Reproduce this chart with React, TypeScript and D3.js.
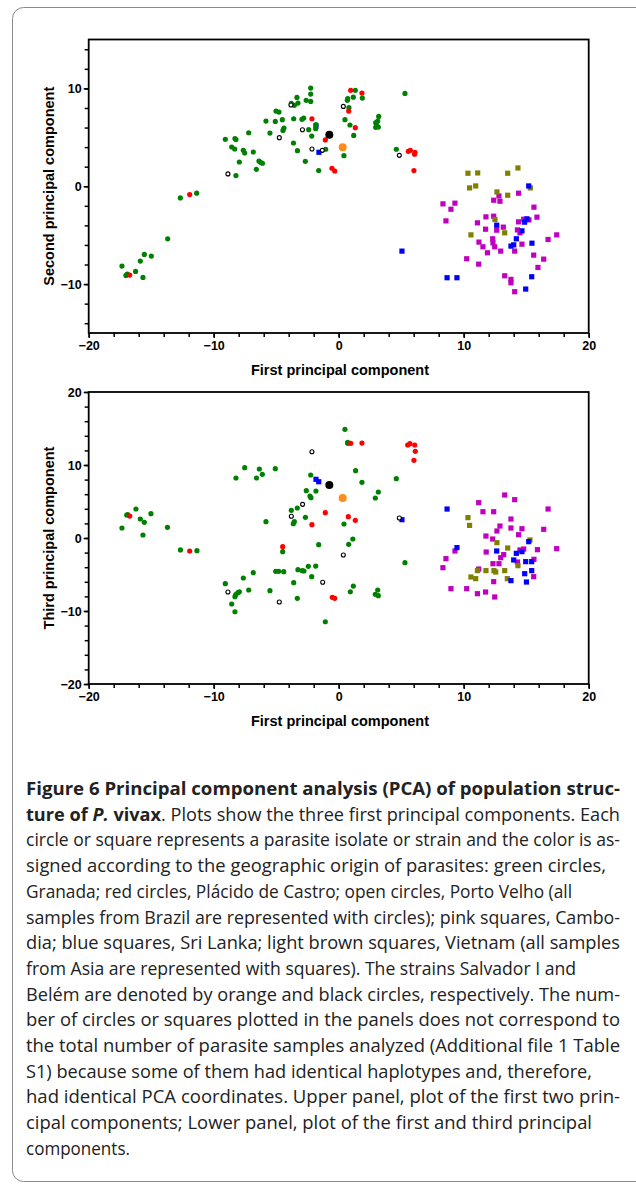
import React, { useEffect, useRef } from "react";
import * as d3 from "d3";

type Pt = [number, number];

// ---- upper panel: PC1 vs PC2 ----
const pc2Granada: Pt[] = [
  [-2.24, 10.03], [-2.24, 9.42], [-3.34, 9.08], [-2.6, 8.78], [-2.24, 8.67], [-3.79, 8.47], [-3.55, 8.27],
  [-3.26, 8.5], [-5.02, 7.68], [-4.78, 7.58], [-5.82, 6.66], [-5.07, 6.63], [-4.51, 6.8], [-3.6, 6.9],
  [-2.94, 6.84], [-2.8, 6.97], [-7.2, 5.47], [-5.5, 5.44], [-4.38, 5.95], [-4.46, 5.71], [-2.4, 5.78],
  [-1.82, 6.29], [-1.84, 5.89], [-9.07, 4.8], [-8.3, 4.87], [-8.22, 4.77], [-2.16, 5.13], [-3.62, 4.42],
  [-8.56, 4.01], [-8.32, 3.81], [-7.63, 3.67], [-7.52, 3.4], [-6.83, 3.5], [-3.3, 3.64], [-1.04, 3.78],
  [-7.95, 2.48], [-6.38, 2.58], [-6.25, 2.45], [-6.1, 2.35], [-2.67, 2.55], [0.42, 3.13], [-6.59, 1.73],
  [-1.6, 1.6], [-8.22, 1.09], [-12.67, -1.19], [-11.36, -0.71], [1.33, 9.8], [0.72, 8.95], [0.69, 8.78],
  [1.17, 9.1], [0.82, 8.03], [0.5, 6.8], [0.9, 6.26], [1.2, 5.2], [1.89, 9.01], [3.2, 7.14], [3.12, 6.66],
  [2.96, 6.5], [3.04, 6.26], [3.17, 6.05], [2.96, 6.02], [5.3, 9.49], [4.61, 3.78], [-13.68, -5.37],
  [-14.99, -7.14], [-15.55, -6.97], [-15.87, -7.65], [-17.34, -8.16], [-16.25, -8.71], [-16.91, -8.98],
  [-17.02, -9.12], [-15.66, -9.32],
];
const pc2Placido: Pt[] = [
  [-2.14, 6.9], [-1.07, 4.73], [-0.54, 1.84], [-0.32, 1.56], [-11.92, -0.85], [0.96, 9.8], [0.8, 7.68],
  [1.33, 5.99], [1.86, 9.52], [5.57, 3.57], [5.73, 3.67], [6.1, 3.47], [6.07, 3.27], [6.02, 1.6], [-16.72, -9.08],
];
const pc2PortoVelho: Pt[] = [
  [-3.82, 8.3], [-2.9, 5.78], [-4.75, 4.97], [-2.14, 3.81], [-1.31, 3.67], [-8.86, 1.26], [0.37, 8.16], [4.85, 3.16],
];
const pc2Cambodia: Pt[] = [
  [14.39, -0.71], [12.82, -0.99], [12.4, -1.43], [12.9, -1.53], [8.34, -1.8], [9.3, -1.73], [8.98, -2.35],
  [15.62, -2.14], [8.58, -3.54], [11.1, -3.74], [11.78, -3.13], [12.4, -3.06], [15.86, -3.16], [15.22, -3.44],
  [14.8, -3.37], [14.39, -3.64], [13.17, -4.18], [11.75, -4.39], [12.64, -4.49], [14.3, -4.46], [14.5, -4.76],
  [17.44, -4.97], [16.75, -5.44], [11.22, -5.71], [12.32, -5.37], [12.34, -5.78], [12.48, -6.19], [11.54, -6.19],
  [14.66, -5.92], [12.96, -6.63], [11.9, -6.8], [14.08, -6.63], [15.6, -7.04], [10.24, -7.41], [16.4, -7.45],
  [11.2, -7.96], [15.94, -8.3], [13.28, -9.15], [13.78, -9.52], [13.78, -9.87], [14.08, -10.78],
];
const pc2SriLanka: Pt[] = [
  [-1.82, 6.15], [-1.58, 3.47], [15.2, 0.03], [15.06, -3.33], [14.87, -3.67], [12.64, -3.98], [14.66, -4.56],
  [14.21, -5.37], [14.0, -5.99], [13.78, -6.12], [15.46, -5.82], [5.06, -6.63], [8.67, -9.35], [9.46, -9.35],
  [15.44, -9.25], [14.96, -10.51],
];
const pc2Vietnam: Pt[] = [
  [10.34, 1.33], [11.12, 1.36], [13.52, 1.33], [14.34, 1.87], [10.47, -0.17], [10.96, 0.03], [12.66, -0.58],
  [13.52, -0.92], [15.33, -0.17], [12.5, -3.4], [13.28, -4.76], [10.58, -4.97],
];
const pc2Salvador: Pt[] = [[0.32, 3.98]];
const pc2Belem: Pt[] = [[-0.75, 5.27]];

// ---- lower panel: PC1 vs PC3 ----
const pc3Granada: Pt[] = [
  [-7.52, 9.63], [-6.35, 9.45], [-5.07, 9.49], [-8.22, 8.22], [-6.58, 8.22], [-6.11, 8.72], [-2.24, 8.63],
  [-2.59, 6.48], [-1.82, 6.44], [-2.3, 5.75], [-2.22, 5.52], [-3.31, 4.11], [-3.79, 3.79], [-2.66, 2.83],
  [-5.82, 2.23], [-3.55, 2.23], [-3.63, 1.96], [-1.6, -0.92], [-4.48, -1.87], [-16.22, 3.97], [-16.96, 3.15],
  [-16.88, 3.19], [-15.02, 3.33], [-15.87, 2.6], [-15.55, 2.15], [-17.34, 1.37], [-15.66, 0.41], [-13.7, 1.46],
  [0.5, 14.89], [0.72, 13.11], [0.72, 12.97], [1.35, 9.22], [1.86, 7.63], [4.61, 8.12], [3.17, 6.3],
  [2.93, 5.48], [0.42, 1.92], [1.13, -0.14], [0.8, -0.86], [5.3, -3.38], [-12.66, -1.64], [-11.34, -1.73],
  [-2.43, -3.88], [-1.84, -3.84], [-3.26, -4.34], [-2.91, -4.48], [-2.78, -4.52], [-5.04, -4.57], [-4.8, -4.57],
  [-4.4, -4.61], [-2.16, -5.3], [-6.83, -4.75], [-7.63, -5.48], [-9.07, -6.26], [-3.6, -6.12], [1.17, -6.58],
  [0.93, -7.36], [-7.2, -7.12], [-7.95, -7.36], [-8.06, -7.49], [-8.24, -7.77], [-8.3, -8.04], [-5.5, -7.22],
  [-3.31, -8.26], [-8.56, -9.04], [-8.3, -10.1], [-1.07, -11.47], [2.93, -7.71], [3.17, -7.9], [3.12, -7.12],
];
const pc3Placido: Pt[] = [
  [-1.07, 3.47], [-2.14, 1.82], [-16.72, 3.01], [-4.48, -1.19], [0.96, 12.97], [1.86, 13.01], [5.52, 12.74],
  [5.7, 12.92], [6.08, 12.74], [6.13, 11.87], [6.02, 10.64], [0.77, 2.92], [1.33, 2.42], [-11.92, -1.78],
  [-0.51, -8.12], [-0.32, -8.26],
];
const pc3PortoVelho: Pt[] = [
  [-2.14, 11.82], [-2.89, 4.61], [-3.79, 2.97], [4.85, 2.74], [0.37, -2.33], [-1.28, -6.07], [-8.86, -7.4], [-4.75, -8.77],
];
const pc3Cambodia: Pt[] = [
  [13.28, 5.89], [14.08, 5.25], [11.2, 4.84], [11.54, 3.6], [12.4, 3.6], [16.75, 3.97], [13.78, 2.6],
  [12.9, 1.64], [13.78, 1.37], [14.66, 1.27], [16.4, 1.19], [12.66, 0.96], [11.78, 0.27], [14.39, 0.45],
  [12.32, -0.14], [14.8, -1.51], [14.5, -1.64], [15.9, -1.6], [17.44, -1.46], [9.3, -1.78], [11.8, -1.92],
  [13.2, -2.28], [12.96, -2.7], [8.58, -2.83], [15.62, -2.92], [12.34, -3.52], [12.82, -3.52], [14.3, -3.29],
  [8.34, -4.07], [11.2, -4.25], [15.6, -5.3], [12.4, -5.98], [8.98, -6.94], [10.24, -6.94], [11.1, -7.63],
  [11.75, -7.4], [12.48, -8.08],
];
const pc3SriLanka: Pt[] = [
  [-1.82, 8.04], [-1.6, 7.71], [5.06, 2.51], [8.67, 3.97], [9.46, -1.32], [15.2, -0.5], [12.64, -1.78],
  [14.21, -2.1], [14.66, -1.87], [14.0, -3.01], [14.96, -3.24], [15.44, -3.24], [15.44, -4.47], [14.88, -4.89],
  [13.78, -5.84], [15.02, -6.03],
];
const pc3Vietnam: Pt[] = [
  [10.34, 2.79], [10.47, 1.73], [12.66, -0.64], [13.52, -1.37], [15.3, -0.27], [14.34, -3.79], [11.1, -4.47],
  [11.78, -4.47], [12.42, -4.47], [12.56, -4.66], [13.28, -4.47], [10.58, -5.34], [10.96, -5.57], [13.49, -5.57],
];
const pc3Salvador: Pt[] = [[0.32, 5.48]];
const pc3Belem: Pt[] = [[-0.75, 7.26]];

const pc1Ticks = [-20, -10, 0, 10, 20];
const pc2Ticks = [-10, 0, 10];
const pc3Ticks = [-20, -10, 0, 10, 20];

const captionLines = [
  "Figure 6 Principal component analysis (PCA) of population struc-",
  "ture of P. vivax. Plots show the three first principal components. Each",
  "circle or square represents a parasite isolate or strain and the color is as-",
  "signed according to the geographic origin of parasites: green circles,",
  "Granada; red circles, Plácido de Castro; open circles, Porto Velho (all",
  "samples from Brazil are represented with circles); pink squares, Cambo-",
  "dia; blue squares, Sri Lanka; light brown squares, Vietnam (all samples",
  "from Asia are represented with squares). The strains Salvador I and",
  "Belém are denoted by orange and black circles, respectively. The num-",
  "ber of circles or squares plotted in the panels does not correspond to",
  "the total number of parasite samples analyzed (Additional file 1 Table",
  "S1) because some of them had identical haplotypes and, therefore,",
  "had identical PCA coordinates. Upper panel, plot of the first two prin-",
  "cipal components; Lower panel, plot of the first and third principal",
  "components.",
];
const captionEnds = [620, 620, 620, 606, 572, 620, 620, 576, 620, 620, 620, 592, 620, 592, 130];

const W = 636, H = 1185;
const font = "'Liberation Sans', Arial, sans-serif";

const App = () => {
  const ref = useRef<SVGSVGElement>(null);

  useEffect(() => {
    const svg = d3.select(ref.current);
    svg.selectAll("*").remove();

    // outer rounded box
    svg.append("rect")
      .attr("x", 12.5).attr("y", 7.5).attr("width", 640).attr("height", 1174)
      .attr("rx", 11).attr("fill", "none").attr("stroke", "#8a8a8a").attr("stroke-width", 1);

    const x = d3.scaleLinear().domain([-20, 20]).range([88.7, 588.7]);

    const panel = (
      y: d3.ScaleLinear<number, number>,
      yTicks: number[],
      yLabel: string,
      groups: { pts: Pt[]; kind: string; color: string }[]
    ) => {
      const [yBottom, yTop] = y.range();
      const g = svg.append("g");
      const minorX = d3.range(-20, 20.1, 2);
      const [d0, d1] = y.domain();
      const minorY = d3.range(Math.ceil(d0 / 2) * 2, d1 + 0.1, 2);

      g.append("g").attr("transform", `translate(0,${yBottom})`)
        .call(d3.axisBottom(x).tickValues(minorX).tickSize(4).tickFormat(() => ""));
      g.append("g").attr("transform", `translate(0,${yBottom})`)
        .call(d3.axisBottom(x).tickValues(pc1Ticks).tickSize(5).tickPadding(3).tickFormat(d3.format("d")));
      g.append("g").attr("transform", `translate(${x.range()[0]},0)`)
        .call(d3.axisLeft(y).tickValues(minorY).tickSize(4).tickFormat(() => ""));
      g.append("g").attr("transform", `translate(${x.range()[0]},0)`)
        .call(d3.axisLeft(y).tickValues(yTicks).tickSize(5).tickPadding(2).tickFormat(d3.format("d")));

      g.selectAll(".domain").remove();
      g.selectAll(".tick line").attr("stroke", "#000").attr("stroke-width", 1.5);
      g.selectAll(".tick text")
        .attr("font-family", font).attr("font-size", 12.5).attr("font-weight", "bold").attr("fill", "#000");

      g.append("rect")
        .attr("x", x.range()[0]).attr("y", yTop)
        .attr("width", x.range()[1] - x.range()[0]).attr("height", yBottom - yTop)
        .attr("fill", "none").attr("stroke", "#000").attr("stroke-width", 1.8);

      g.append("text")
        .attr("x", 340).attr("y", yBottom + 42)
        .attr("text-anchor", "middle").attr("font-family", font)
        .attr("font-size", 14.5).attr("font-weight", "bold").text("First principal component");
      g.append("text")
        .attr("transform", `translate(54,${(yBottom + yTop) / 2}) rotate(-90)`)
        .attr("text-anchor", "middle").attr("font-family", font)
        .attr("font-size", 14.5).attr("font-weight", "bold").text(yLabel);

      groups.forEach((grp) => {
        const sel = g.append("g").selectAll("path").data(grp.pts).enter();
        if (grp.kind === "square") {
          sel.append("rect")
            .attr("x", (d) => x(d[0]) - 2.6).attr("y", (d) => y(d[1]) - 2.6)
            .attr("width", 5.2).attr("height", 5.2).attr("fill", grp.color);
        } else if (grp.kind === "open") {
          sel.append("circle")
            .attr("cx", (d) => x(d[0])).attr("cy", (d) => y(d[1])).attr("r", 2)
            .attr("fill", "#fff").attr("stroke", "#000").attr("stroke-width", 1.1);
        } else {
          sel.append("circle")
            .attr("cx", (d) => x(d[0])).attr("cy", (d) => y(d[1]))
            .attr("r", grp.kind === "big" ? 4 : 2.6).attr("fill", grp.color);
        }
      });
    };

    const y2 = d3.scaleLinear().domain([-15, 15]).range([333, 39.5]);
    panel(y2, pc2Ticks, "Second principal component", [
      { pts: pc2Cambodia, kind: "square", color: "#c000c0" },
      { pts: pc2Vietnam, kind: "square", color: "#808000" },
      { pts: pc2SriLanka, kind: "square", color: "#0000ff" },
      { pts: pc2Granada, kind: "dot", color: "#008000" },
      { pts: pc2Placido, kind: "dot", color: "#ff0000" },
      { pts: pc2PortoVelho, kind: "open", color: "#000" },
      { pts: pc2Salvador, kind: "big", color: "#ff8c1a" },
      { pts: pc2Belem, kind: "big", color: "#000" },
    ]);

    const y3 = d3.scaleLinear().domain([-20, 20]).range([684, 392]);
    panel(y3, pc3Ticks, "Third principal component", [
      { pts: pc3Cambodia, kind: "square", color: "#c000c0" },
      { pts: pc3Vietnam, kind: "square", color: "#808000" },
      { pts: pc3SriLanka, kind: "square", color: "#0000ff" },
      { pts: pc3Granada, kind: "dot", color: "#008000" },
      { pts: pc3Placido, kind: "dot", color: "#ff0000" },
      { pts: pc3PortoVelho, kind: "open", color: "#000" },
      { pts: pc3Salvador, kind: "big", color: "#ff8c1a" },
      { pts: pc3Belem, kind: "big", color: "#000" },
    ]);

    // caption
    const cap = svg.append("g")
      .attr("font-family", "'Open Sans', 'Noto Sans', sans-serif")
      .attr("font-size", 18).attr("fill", "#222");
    captionLines.forEach((line, i) => {
      const t = cap.append("text")
        .attr("x", 26).attr("y", 795 + i * 25.7)
        .attr("textLength", captionEnds[i] - 26)
        .attr("lengthAdjust", "spacingAndGlyphs");
      if (i === 0) {
        t.attr("font-weight", "bold").text(line);
      } else if (i === 1) {
        t.append("tspan").attr("font-weight", "bold").text("ture of ");
        t.append("tspan").attr("font-weight", "bold").attr("font-style", "italic").text("P.");
        t.append("tspan").attr("font-weight", "bold").text(" vivax");
        t.append("tspan").text(line.slice("ture of P. vivax".length));
      } else {
        t.text(line);
      }
    });
  }, []);

  return (
    <svg ref={ref} width={W} height={H}
      style={{ position: "absolute", left: 0, top: 0, background: "#fff" }} />
  );
};

export default App;
